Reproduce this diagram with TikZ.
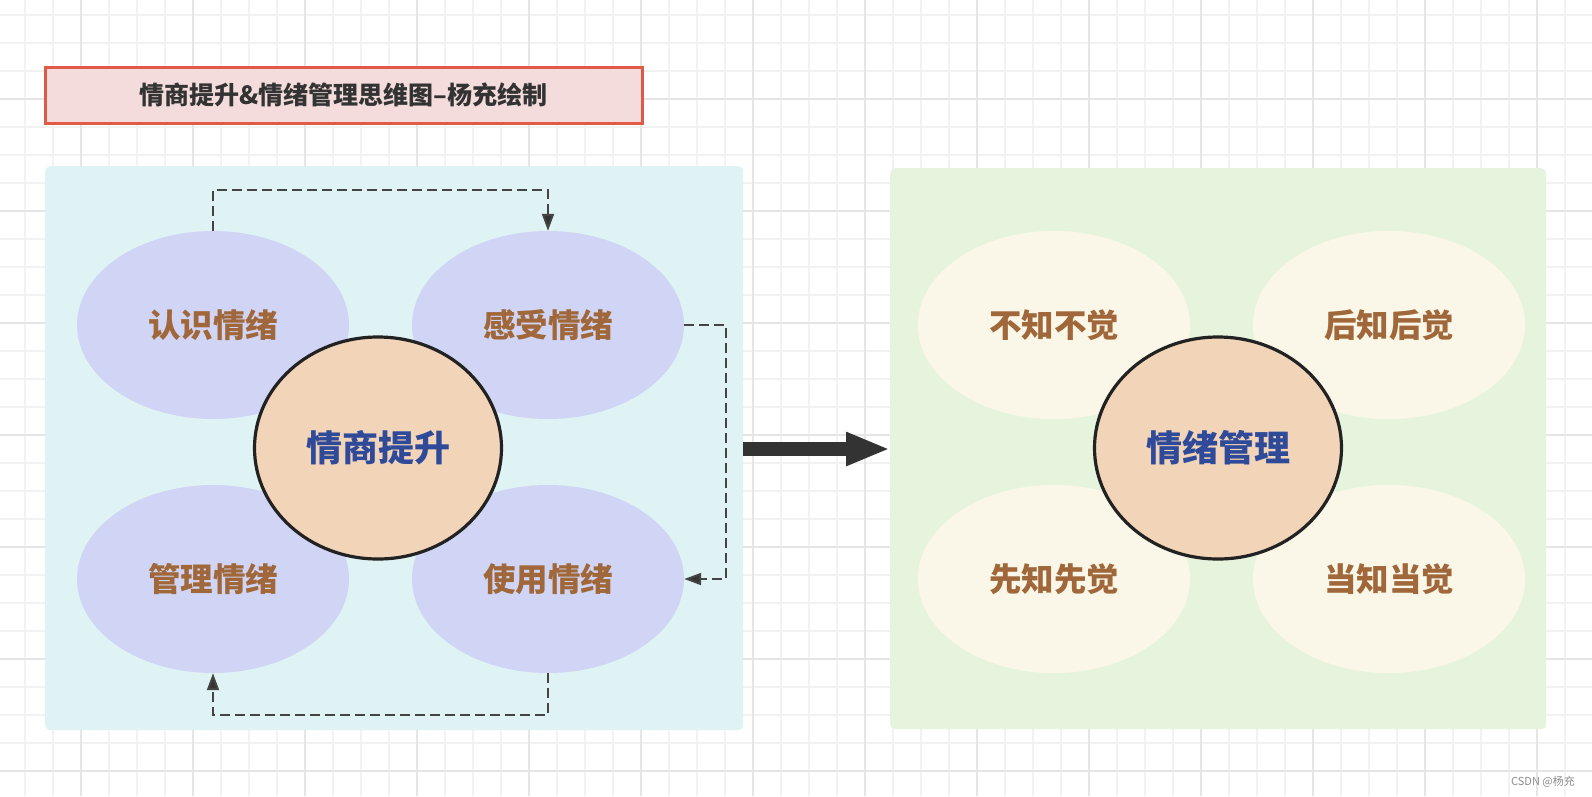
\documentclass[tikz,border=0pt]{standalone}
\usepackage{fontspec}
\setmainfont{Noto Sans CJK SC}
\usetikzlibrary{arrows.meta,shapes.geometric}
\definecolor{gridminor}{HTML}{F2F2F2}
\definecolor{gridmajor}{HTML}{E6E6E6}
\definecolor{titlefill}{HTML}{F5DCDC}
\definecolor{titledraw}{HTML}{E05A48}
\definecolor{panelL}{HTML}{DFF3F4}
\definecolor{panelR}{HTML}{E7F4DD}
\definecolor{lav}{HTML}{D1D5F5}
\definecolor{cream}{HTML}{FBF7E8}
\definecolor{peach}{HTML}{F2D4B8}
\definecolor{brownt}{HTML}{A0683A}
\definecolor{bluet}{HTML}{2F4A98}
\definecolor{dark}{HTML}{333333}
\definecolor{ring}{HTML}{222222}
\definecolor{dashcol}{HTML}{444444}
\tikzset{
  panel/.style={rounded corners=5pt, inner sep=0pt, anchor=north west},
  petalL/.style={ellipse, fill=lav, minimum width=272pt, minimum height=188pt, inner sep=0pt,
    text=brownt, font=\fontsize{32.5}{32.5}\selectfont\bfseries},
  petalR/.style={petalL, fill=cream},
  core/.style={ellipse, fill=peach, draw=ring, line width=3.2pt, minimum width=247pt, minimum height=222pt,
    inner sep=0pt, text=bluet, font=\fontsize{36}{36}\selectfont\bfseries},
  dashc/.style={draw=dashcol, line width=2pt, dash pattern=on 10pt off 5pt,
    -{Triangle[length=17pt,width=12pt,fill=dark]}},
}
\begin{document}
\begin{tikzpicture}[x=1pt,y=-1pt]
\useasboundingbox (0,0) rectangle (1592,796);
\fill[white] (0,0) rectangle (1592,796);
% grid
\foreach \i in {0,...,56} \draw[gridminor,line width=1.4pt] ({25+28*\i},0) -- ({25+28*\i},796);
\foreach \j in {0,...,28} \draw[gridminor,line width=1.4pt] (0,{15+28*\j}) -- (1592,{15+28*\j});
\foreach \i in {0,...,13} \draw[gridmajor,line width=2.2pt] ({81+112*\i},0) -- ({81+112*\i},796);
\foreach \j in {0,...,6} \draw[gridmajor,line width=2.2pt] (0,{99+112*\j}) -- (1592,{99+112*\j});
% title
\node[draw=titledraw, fill=titlefill, line width=3pt, minimum width=597pt, minimum height=56pt,
  inner sep=0pt, text=dark, font=\fontsize{25}{25}\selectfont\bfseries] (title) at (343.5,95)
  {情商提升\&情绪管理思维图–杨充绘制};
% panels
\node[panel, fill=panelL, minimum width=698pt, minimum height=564pt] (pl) at (45,166) {};
\node[panel, fill=panelR, minimum width=656pt, minimum height=561pt] (pr) at (890,168) {};
% left group
\node[petalL] (rz) at (213,325) {认识情绪};
\node[petalL] (gs) at (548,325) {感受情绪};
\node[petalL] (gl) at (213,579) {管理情绪};
\node[petalL] (sy) at (548,579) {使用情绪};
\node[core] (eq) at (378,448) {情商提升};
% right group
\node[petalR] (bz) at (1054,325) {不知不觉};
\node[petalR] (hz) at (1389,325) {后知后觉};
\node[petalR] (xz) at (1054,579) {先知先觉};
\node[petalR] (dz) at (1389,579) {当知当觉};
\node[core] (em) at (1218,448) {情绪管理};
% dashed cycle
\draw[dashc] (rz.north) -- ++(0,-41) -| (gs.north);
\draw[dashc] (gs.east) -- ++(42,0) |- (sy.east);
\draw[dashc] (sy.south) -- ++(0,42) -| (gl.south);
% big arrow
\draw[dark, line width=14.5pt, -{Triangle[length=44pt,width=31pt]}] (pl.east |- 0,449) -- (pr.west |- 0,449);
% watermark
\node[text=black!45, font=\fontsize{11}{11}\selectfont, inner sep=0pt] (wm) at (1543,782) {CSDN @杨充};
\end{tikzpicture}
\end{document}
